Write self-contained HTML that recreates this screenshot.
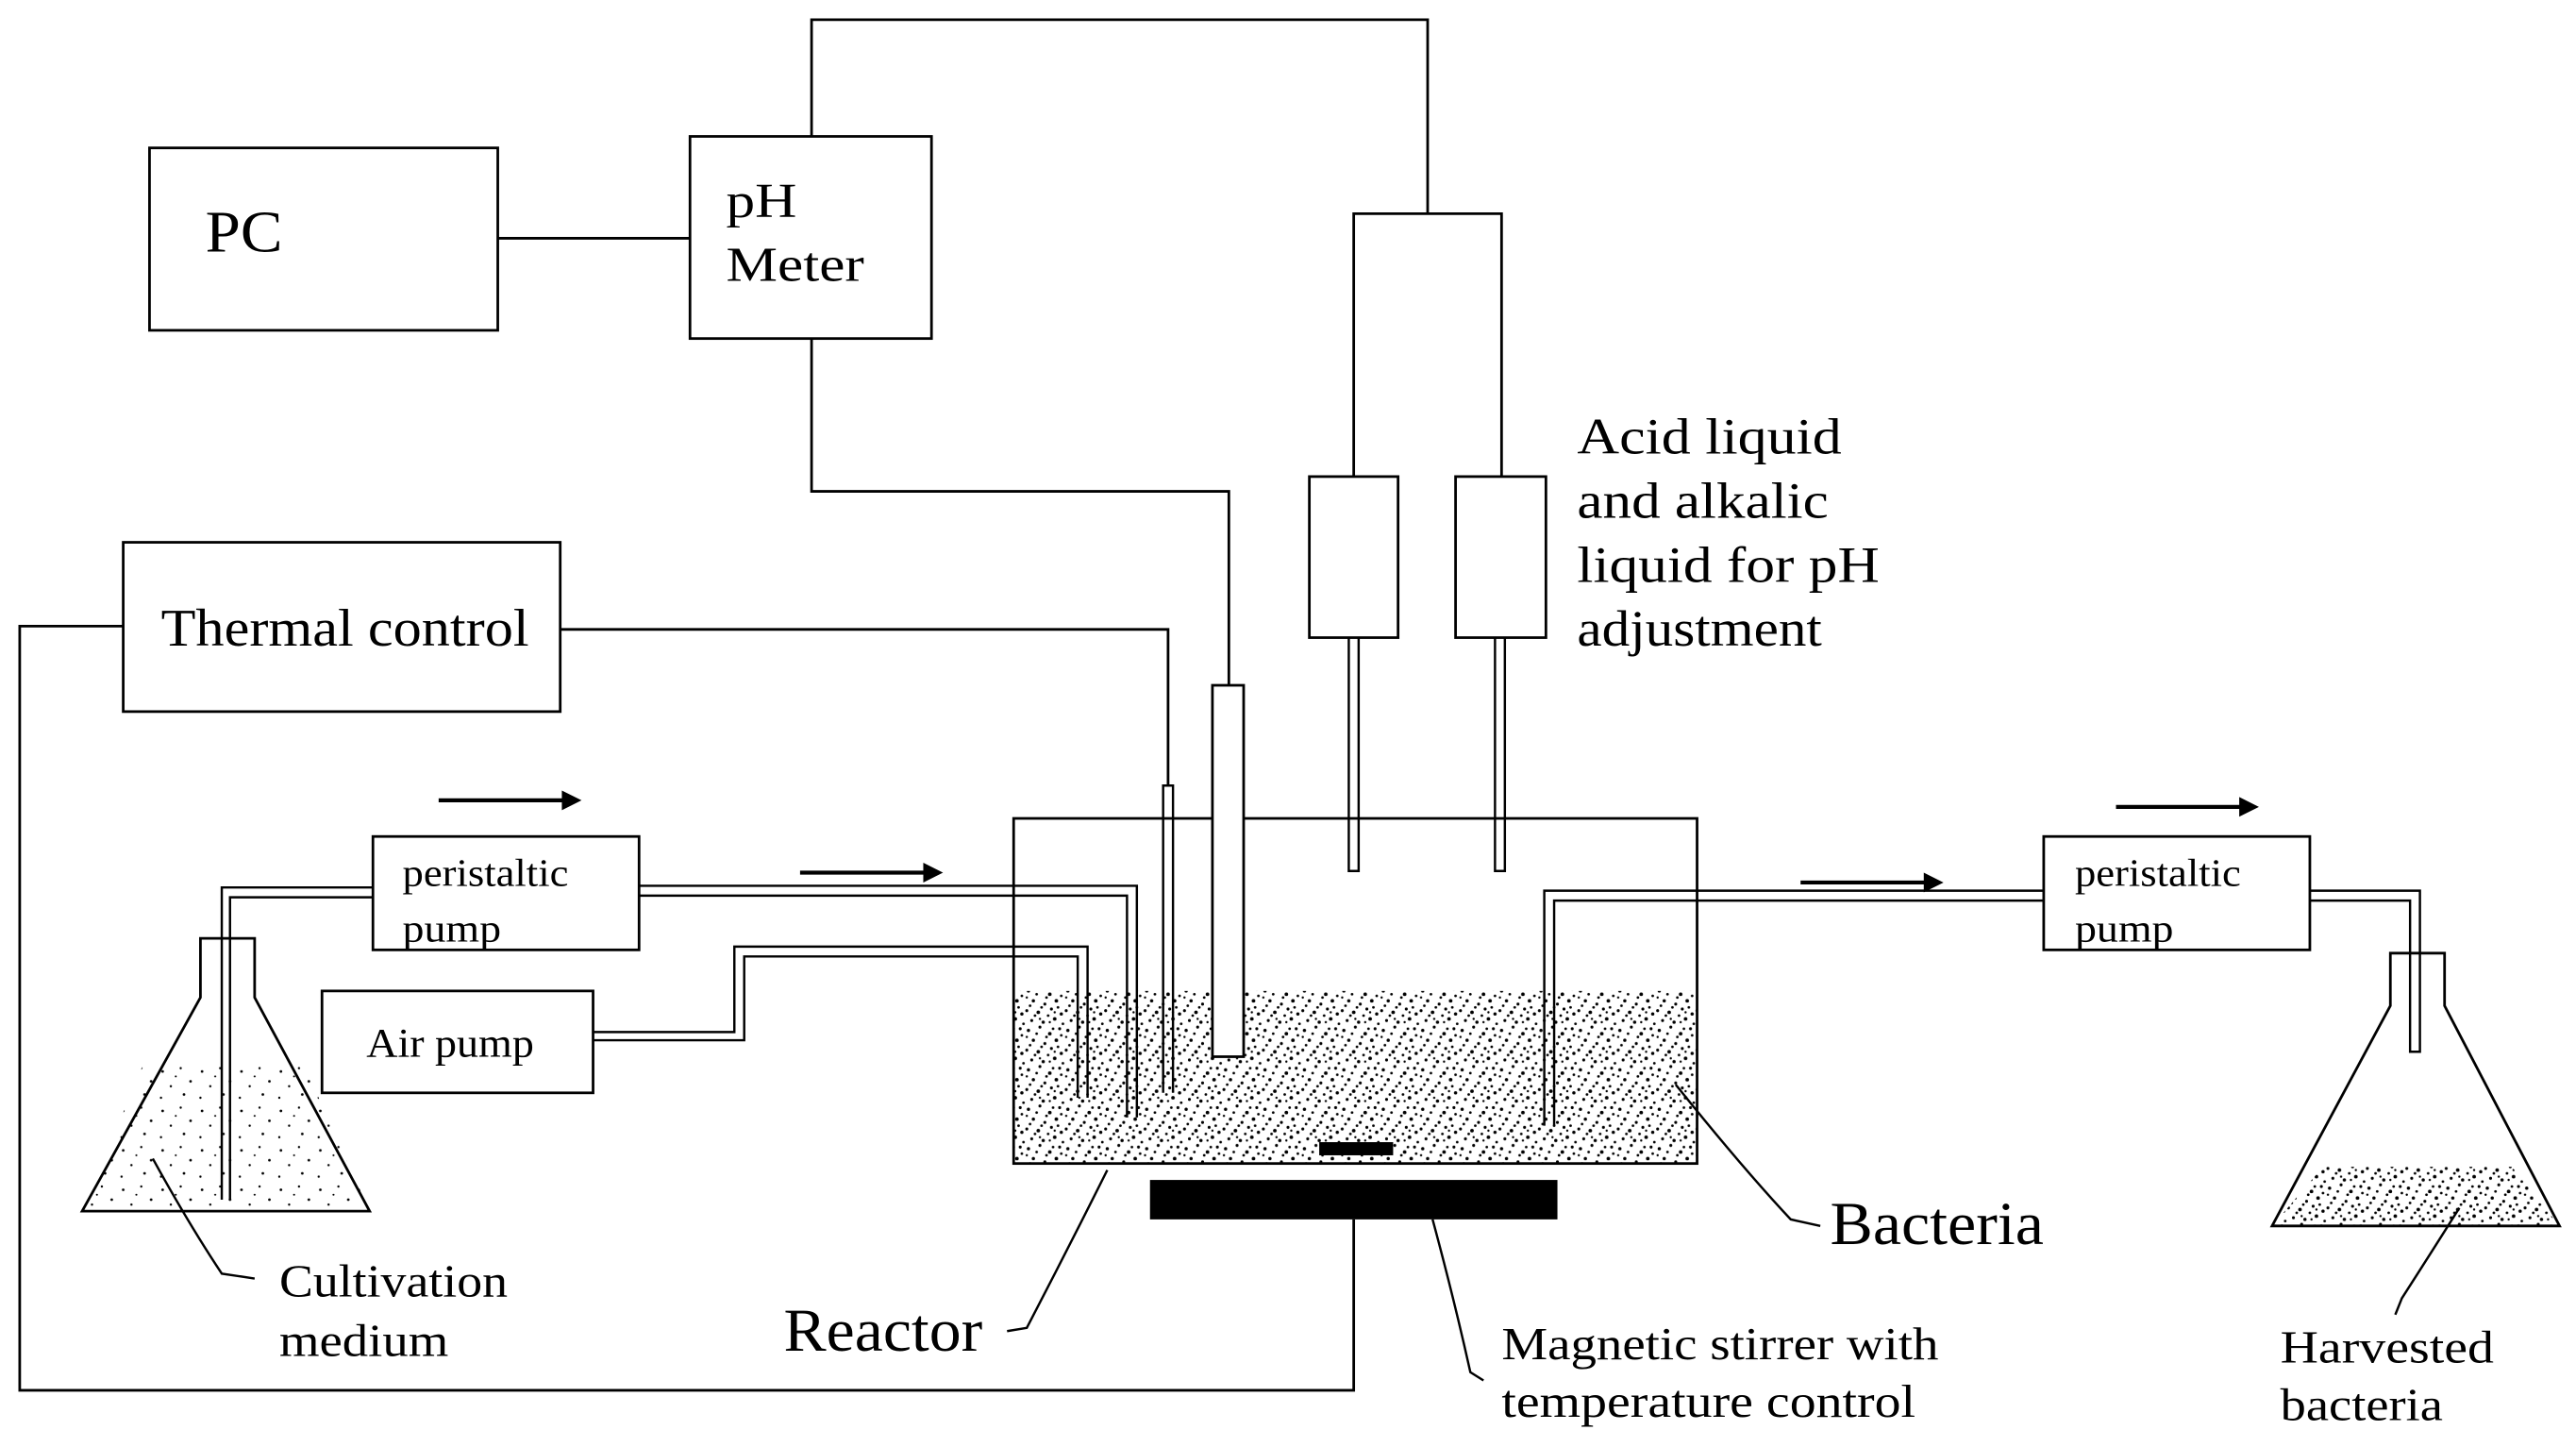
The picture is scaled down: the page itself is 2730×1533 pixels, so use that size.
<!DOCTYPE html>
<html><head><meta charset="utf-8"><style>
html,body{margin:0;padding:0;background:#fff;}
svg{display:block;}
text{font-family:"Liberation Serif",serif;fill:#000;}
</style></head><body>
<svg width="2730" height="1533" viewBox="0 0 1568 880.5" preserveAspectRatio="none" xmlns="http://www.w3.org/2000/svg">
<defs>
<pattern id="dots" width="24" height="24" patternUnits="userSpaceOnUse">
<rect width="24" height="24" fill="#fff"/>
<g fill="#000">
<circle cx="2" cy="3" r="1"/><circle cx="9" cy="1" r="0.9"/><circle cx="15" cy="5" r="1.1"/><circle cx="21" cy="2" r="0.9"/>
<circle cx="5" cy="9" r="1"/><circle cx="12" cy="11" r="0.9"/><circle cx="19" cy="9" r="1.1"/><circle cx="1" cy="15" r="0.9"/>
<circle cx="8" cy="16" r="1.1"/><circle cx="16" cy="14" r="0.9"/><circle cx="22" cy="17" r="1"/><circle cx="4" cy="21" r="0.9"/>
<circle cx="11" cy="22" r="1"/><circle cx="18" cy="20" r="1.1"/><circle cx="13" cy="7" r="0.8"/><circle cx="7" cy="5" r="0.8"/>
<circle cx="20" cy="13" r="0.8"/><circle cx="3" cy="12" r="0.8"/><circle cx="14" cy="18" r="0.8"/><circle cx="23" cy="23" r="0.8"/>
<circle cx="10" cy="13" r="0.8"/><circle cx="17" cy="2" r="0.8"/><circle cx="6" cy="18" r="0.8"/><circle cx="22" cy="6" r="0.8"/>
<circle cx="1" cy="7" r="0.7"/><circle cx="15" cy="22" r="0.7"/><circle cx="9" cy="20" r="0.7"/><circle cx="18" cy="16" r="0.7"/>
</g>
</pattern>
<pattern id="sdots" width="24" height="24" patternUnits="userSpaceOnUse">
<rect width="24" height="24" fill="#fff"/>
<g fill="#000">
<circle cx="3" cy="4" r="0.8"/><circle cx="14" cy="2" r="0.7"/><circle cx="20" cy="10" r="0.8"/><circle cx="8" cy="13" r="0.7"/>
<circle cx="2" cy="20" r="0.7"/><circle cx="16" cy="18" r="0.8"/><circle cx="11" cy="7" r="0.6"/>
</g>
</pattern>
</defs>
<g fill="none" stroke="#000" stroke-width="1.6">
<rect x="91" y="90" width="212" height="111"/>
<rect x="420" y="83" width="147" height="123"/>
<rect x="75" y="330" width="266" height="103"/>
<rect x="227" y="509" width="162" height="69"/>
<rect x="196" y="603" width="165" height="62"/>
<rect x="1244" y="509" width="162" height="69"/>
<rect x="797" y="290" width="54" height="98"/>
<rect x="886" y="290" width="55" height="98"/>
<line x1="303" y1="145" x2="420" y2="145"/>
<polyline points="494,83 494,12 869,12 869,130"/>
<polyline points="824,290 824,130 914,130 914,290"/>
<polyline points="494,206 494,299 748,299 748,417"/>
<polyline points="75,381 12,381 12,846 824,846 824,742"/>
<polyline points="341,383 711,383 711,478"/>
</g>
<rect x="617" y="603" width="416" height="105" fill="url(#dots)"/>
<rect x="617" y="498" width="416" height="210" fill="none" stroke="#000" stroke-width="1.6"/>
<path d="M87,648 L185,648 L225,737 L50,737 Z" fill="url(#sdots)"/>
<path d="M122,571 L155,571 L155,607 L225,737 L50,737 L122,607 Z" fill="none" stroke="#000" stroke-width="1.6"/>
<path d="M1414,710 L1529,710 L1558,746 L1383,746 Z" fill="url(#dots)"/>
<path d="M1455,580 L1488,580 L1488,612 L1558,746 L1383,746 L1455,612 Z" fill="none" stroke="#000" stroke-width="1.6"/>
<g fill="none" stroke="#000" stroke-width="1.4">
<polyline points="135,730 135,540 227,540"/><polyline points="140,730 140,546 227,546"/>
<polyline points="389,539 692,539 692,680"/><polyline points="389,545 686,545 686,680"/>
<polyline points="361,628 447,628 447,576 662,576 662,668"/><polyline points="361,633 453,633 453,582 656,582 656,668"/>
<polyline points="940,685 940,542 1244,542"/><polyline points="946,685 946,548 1244,548"/>
<polyline points="1406,542 1473,542 1473,640 1467,640 1467,548 1406,548"/>
<polyline points="708,665 708,478 714,478 714,665"/>
<polyline points="821,388 821,530 827,530 827,388"/>
<polyline points="910,388 910,530 916,530 916,388"/>
</g>
<rect x="738" y="417" width="19" height="226" fill="#fff" stroke="#000" stroke-width="1.6"/>
<rect x="803" y="695" width="45" height="8" fill="#000"/>
<rect x="700" y="718" width="248" height="24" fill="#000"/>
<g stroke="#000" stroke-width="2.4" fill="#000">
<line x1="267" y1="487" x2="346" y2="487"/><path d="M354,487 L342,481 L342,493 Z" stroke="none"/>
<line x1="487" y1="531" x2="566" y2="531"/><path d="M574,531 L562,525 L562,537 Z" stroke="none"/>
<line x1="1096" y1="537" x2="1175" y2="537"/><path d="M1183,537 L1171,531 L1171,543 Z" stroke="none"/>
<line x1="1288" y1="491" x2="1367" y2="491"/><path d="M1375,491 L1363,485 L1363,497 Z" stroke="none"/>
</g>
<g fill="none" stroke="#000" stroke-width="1.4">
<path d="M93,705 Q115,745 135,775 L155,778"/>
<path d="M613,810 L625,808 Q650,760 674,712"/>
<path d="M903,840 L895,835 Q885,790 872,742"/>
<path d="M1108,746 L1090,742 Q1060,710 1020,660"/>
<path d="M1458,800 L1462,790 Q1480,762 1497,735"/>
</g>
<text x="125" y="153" font-size="36" textLength="47" lengthAdjust="spacingAndGlyphs">PC</text>
<text x="442" y="132" font-size="30" textLength="43" lengthAdjust="spacingAndGlyphs">pH</text>
<text x="442" y="171" font-size="30" textLength="84" lengthAdjust="spacingAndGlyphs">Meter</text>
<text x="98" y="393" font-size="32" textLength="224" lengthAdjust="spacingAndGlyphs">Thermal control</text>
<text x="245" y="539" font-size="24" textLength="101" lengthAdjust="spacingAndGlyphs">peristaltic</text>
<text x="245" y="573" font-size="24" textLength="60" lengthAdjust="spacingAndGlyphs">pump</text>
<text x="223" y="643" font-size="25" textLength="102" lengthAdjust="spacingAndGlyphs">Air pump</text>
<text x="1263" y="539" font-size="24" textLength="101" lengthAdjust="spacingAndGlyphs">peristaltic</text>
<text x="1263" y="573" font-size="24" textLength="60" lengthAdjust="spacingAndGlyphs">pump</text>
<text x="960" y="276" font-size="31" textLength="161" lengthAdjust="spacingAndGlyphs">Acid liquid</text>
<text x="960" y="315" font-size="31" textLength="153" lengthAdjust="spacingAndGlyphs">and alkalic</text>
<text x="960" y="354" font-size="31" textLength="184" lengthAdjust="spacingAndGlyphs">liquid for pH</text>
<text x="960" y="393" font-size="31" textLength="149" lengthAdjust="spacingAndGlyphs">adjustment</text>
<text x="170" y="789" font-size="28" textLength="139" lengthAdjust="spacingAndGlyphs">Cultivation</text>
<text x="170" y="825" font-size="28" textLength="103" lengthAdjust="spacingAndGlyphs">medium</text>
<text x="477" y="822" font-size="37" textLength="121" lengthAdjust="spacingAndGlyphs">Reactor</text>
<text x="914" y="827" font-size="28" textLength="266" lengthAdjust="spacingAndGlyphs">Magnetic stirrer with</text>
<text x="914" y="862" font-size="28" textLength="252" lengthAdjust="spacingAndGlyphs">temperature control</text>
<text x="1114" y="757" font-size="37" textLength="130" lengthAdjust="spacingAndGlyphs">Bacteria</text>
<text x="1388" y="829" font-size="28" textLength="130" lengthAdjust="spacingAndGlyphs">Harvested</text>
<text x="1388" y="864" font-size="28" textLength="99" lengthAdjust="spacingAndGlyphs">bacteria</text>
</svg>
</body></html>
